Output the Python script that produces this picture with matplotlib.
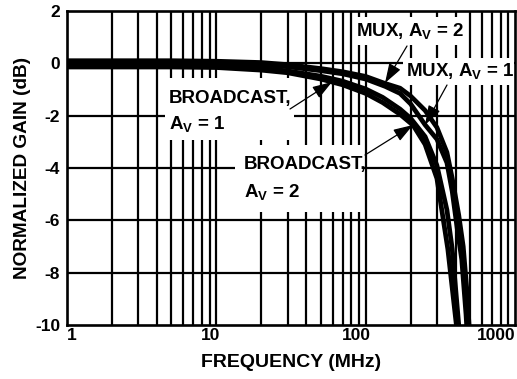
import matplotlib
matplotlib.use("Agg")
import matplotlib.pyplot as plt
import matplotlib.transforms as mtransforms
from matplotlib.patches import Rectangle

plt.rcParams['font.family'] = ['Liberation Sans', 'DejaVu Sans']
plt.rcParams['font.weight'] = 'bold'
plt.rcParams['mathtext.fontset'] = 'custom'
plt.rcParams['mathtext.rm'] = 'Liberation Sans:bold'
plt.rcParams['mathtext.it'] = 'Liberation Sans:bold'
plt.rcParams['mathtext.bf'] = 'Liberation Sans:bold'
plt.rcParams['mathtext.default'] = 'rm'

# Data (frequency in MHz, normalized gain in dB)
freq_mux2 = [1, 5, 10, 20, 30, 50, 70, 100, 135, 170, 200, 250, 300, 350, 380, 420, 450, 475, 495, 510]
gain_mux2 = [0.1, 0.1, 0.08, 0.03, -0.05, -0.2, -0.32, -0.5, -0.77, -0.95, -1.25, -1.8, -2.45, -3.4, -4.4, -5.8, -7.0, -8.6, -10.2, -11.5]

freq_mux1 = [1, 5, 10, 20, 30, 50, 70, 100, 135, 170, 200, 250, 300, 350, 380, 410, 440, 470, 480]
gain_mux1 = [0.03, 0.03, 0.0, -0.05, -0.13, -0.28, -0.4, -0.6, -0.88, -1.15, -1.55, -2.35, -2.9, -3.8, -4.9, -6.3, -7.5, -9.6, -10.5]

freq_bc1 = [1, 5, 10, 20, 30, 50, 70, 100, 130, 170, 200, 250, 300, 350, 380, 420, 430]
gain_bc1 = [-0.05, -0.06, -0.09, -0.19, -0.29, -0.49, -0.68, -0.98, -1.3, -1.75, -2.1, -2.8, -3.9, -5.6, -7.1, -10.0, -10.8]

freq_bc2 = [1, 5, 10, 20, 30, 50, 70, 100, 130, 170, 208, 250, 300, 355, 405, 415]
gain_bc2 = [-0.14, -0.14, -0.16, -0.26, -0.36, -0.6, -0.82, -1.15, -1.5, -1.95, -2.37, -3.1, -4.4, -7.1, -10.0, -10.8]

x_ticks = [1, 10, 100, 1000]
x_tick_labels = ["1", "10", "100", "1000"]
y_ticks = [2, 0, -2, -4, -6, -8, -10]
y_tick_labels = ["2", "0", "-2", "-4", "-6", "-8", "-10"]

W, H = 517, 379
fig = plt.figure(figsize=(W / 100, H / 100), dpi=100)
ax = fig.add_axes([67 / W, 1 - 325 / H, (515 - 67) / W, (325 - 11) / H])

ax.set_xscale('log')
ax.set_xlim(1, 1000)
ax.set_ylim(-10, 2)

# grid
for dec in [1, 10, 100]:
    for m in range(2, 10):
        ax.axvline(dec * m, color='black', lw=1.6, zorder=1)
ax.axvline(10, color='black', lw=1.6, zorder=1)
ax.axvline(100, color='black', lw=1.6, zorder=1)
for yv in [-8, -6, -4, -2, 0]:
    ax.axhline(yv, color='black', lw=1.6, zorder=1)

for s in ax.spines.values():
    s.set_linewidth(1.9)
    s.set_zorder(5)

lw = 3.4
for f, g in [(freq_mux2, gain_mux2), (freq_mux1, gain_mux1), (freq_bc1, gain_bc1), (freq_bc2, gain_bc2)]:
    ax.plot(f, g, color='black', lw=lw, solid_capstyle='butt', zorder=3)

ax.set_yticks(y_ticks)
ax.set_yticklabels(y_tick_labels, fontsize=12.5, fontweight='bold')
ax.set_xticks(x_ticks)
ax.set_xticklabels(x_tick_labels, fontsize=12.5, fontweight='bold')
ax.minorticks_off()
ax.tick_params(axis='both', length=0)
ax.tick_params(axis='y', pad=5)
ax.tick_params(axis='x', pad=2)

labs = ax.get_xticklabels()
offsets_px = [5, -6, -9, -19]
for lab, dx in zip(labs, offsets_px):
    lab.set_transform(lab.get_transform() + mtransforms.ScaledTranslation(dx / 100, 0, fig.dpi_scale_trans))

ax.set_xlabel("FREQUENCY (MHz)", fontsize=14, fontweight='bold', labelpad=8)
ax.set_ylabel("NORMALIZED GAIN (dB)", fontsize=13.7, fontweight='bold', labelpad=3)


def white_box(x0, y0, x1, y1):
    r = Rectangle((x0 / W, 1 - y1 / H), (x1 - x0) / W, (y1 - y0) / H,
                  transform=fig.transFigure, facecolor='white', edgecolor='none', zorder=2)
    ax.add_patch(r)
    r.set_clip_on(False)


white_box(165, 78, 294, 140)
white_box(235, 145, 364, 212)
white_box(353, 17, 468, 45)
white_box(403, 58, 514, 85)


def ftext(px, py, s, **kw):
    ax.text(px / W, 1 - py / H, s, transform=fig.transFigure, fontsize=13.5,
            fontweight='bold', zorder=6, **kw)


ftext(169, 98, "BROADCAST,", va='center', ha='left')
ftext(169, 124, "A$_V$ = 1", va='center', ha='left')
ftext(244, 165, "BROADCAST,", va='center', ha='left')
ftext(244, 192, "A$_V$ = 2", va='center', ha='left')
ftext(356, 31, "MUX, A$_V$ = 2", va='center', ha='left')
ftext(406, 71, "MUX, A$_V$ = 1", va='center', ha='left')


def arrow(x0, y0, x1, y1):
    ax.annotate("", xy=(x1 / W, 1 - y1 / H), xytext=(x0 / W, 1 - y0 / H),
                xycoords='figure fraction', textcoords='figure fraction',
                arrowprops=dict(arrowstyle='-|>,head_length=1.2,head_width=0.4',
                                color='black', lw=0.9, shrinkA=0, shrinkB=0),
                zorder=7)


arrow(407, 46, 385, 83)
arrow(447, 85, 425, 125)
arrow(290, 109, 332, 82)
arrow(365, 155, 413, 125)

fig.savefig("out.png", dpi=100)
